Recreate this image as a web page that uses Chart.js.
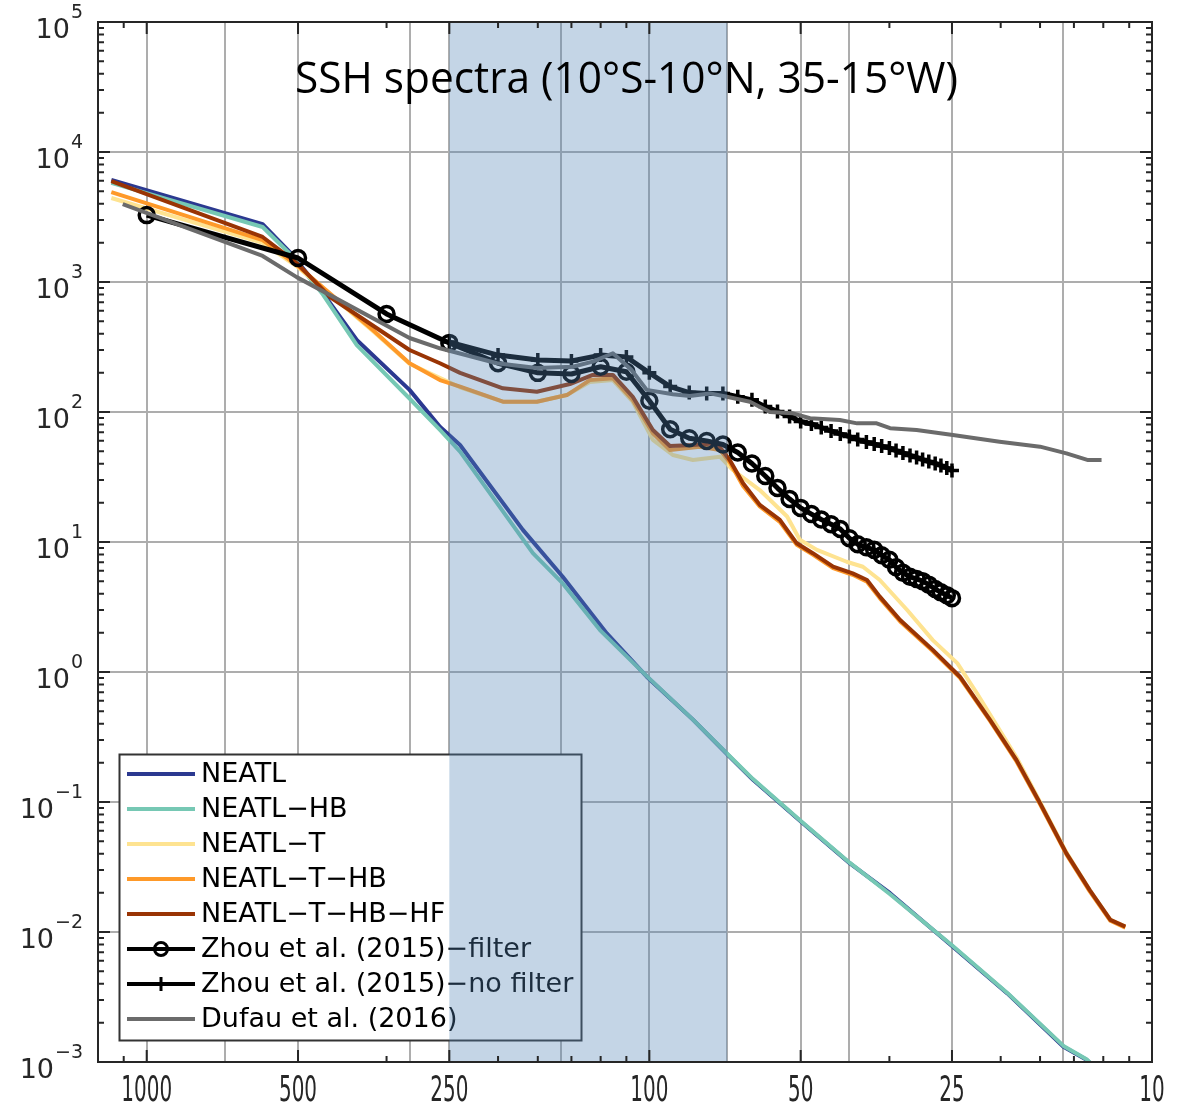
<!DOCTYPE html>
<html>
<head>
<meta charset="utf-8">
<script src="https://cdn.jsdelivr.net/npm/chart.js@4.4.1/dist/chart.umd.min.js"></script>
<style>
  body { margin: 0; background: #fff; }
  canvas { display: block; }
</style>
</head>
<body>
<canvas id="myChart" width="1197" height="1110"></canvas>
<script>
// wavelength (km) / SSH spectrum values
const neatlWl  = [1176, 588, 519, 446, 382, 300, 261, 238, 178.5, 148.7, 121.5, 101.2, 81.9, 69.2, 62.2, 49.9, 39.9, 33.2, 24.9, 19.4, 15.0, 13.5, 12.7];
const neatlVal = [6090, 2790, 1700, 822, 358, 148, 77, 55.7, 12.4, 5.4, 1.98, 0.92, 0.43, 0.223, 0.148, 0.0705, 0.0337, 0.0199, 0.0077, 0.00337, 0.00131, 0.00104, 0.00084];

const hbWl  = [1176, 588, 519, 446, 382, 300, 261, 238, 170.5, 148.7, 125.4, 101.2, 81.9, 69.2, 62.2, 49.9, 39.9, 33.2, 24.9, 19.4, 15.0, 13.5, 12.7];
const hbVal = [5780, 2650, 1650, 800, 327, 127, 72.8, 49.6, 8.2, 4.8, 2.1, 0.93, 0.43, 0.225, 0.15, 0.071, 0.034, 0.0195, 0.0078, 0.0034, 0.00133, 0.00105, 0.00084];

const tWl  = [1176, 588, 503, 355, 300, 238, 195.6, 167.4, 145.9, 131.4, 118.2, 107.9, 98.4, 89.8, 81.9, 72.4, 68.2, 60.3, 58.4, 53.2, 50.2, 46.4, 40.5, 37.6, 34.8, 30.7, 27.3, 24.4, 22.3, 20.3, 18.6, 16.7, 14.8, 13.3, 12.1, 11.3];
const tVal = [4430, 2000, 1320, 420, 235, 155, 120, 120, 135, 170, 176, 120, 61, 46.7, 42.7, 45.3, 35.8, 25.1, 22.3, 15.7, 10.4, 8.7, 7.05, 6.45, 5.1, 3.0, 1.76, 1.17, 0.686, 0.38, 0.22, 0.1, 0.041, 0.021, 0.0124, 0.011];

const thbWl  = [1176, 588, 503, 355, 300, 261, 238, 195.6, 167.4, 145.9, 131.4, 118.2, 107.9, 98.4, 91.0, 79.3, 72.4, 69.2, 65.1, 60.3, 55.0, 50.9, 47.3, 43.1, 39.4, 36.9, 34.8, 31.7, 27.3, 24.1, 21.0, 18.6, 16.7, 14.8, 13.3, 12.1, 11.3];
const thbVal = [4920, 2100, 1350, 428, 237, 176, 157, 120, 120, 135, 176, 182, 124, 68.6, 51, 54, 51, 41, 27, 18.8, 14.3, 9.5, 8.0, 6.3, 5.6, 4.95, 3.7, 2.45, 1.45, 0.9, 0.42, 0.205, 0.096, 0.0395, 0.0205, 0.0122, 0.0108];

const thbhfWl  = [1176, 588, 503, 432, 300, 261, 238, 195.6, 167.4, 143.9, 129.6, 118.2, 107.9, 98.4, 91.0, 81.9, 73.4, 69.2, 65.1, 60.3, 55.0, 50.9, 47.3, 43.1, 39.4, 36.9, 34.8, 31.7, 27.3, 24.1, 21.0, 18.6, 16.7, 14.8, 13.3, 12.1, 11.3];
const thbhfVal = [5980, 2220, 1400, 767, 300, 237, 200, 152, 143, 164, 193, 193, 131, 72.8, 54.7, 55.7, 57.4, 42.7, 28.3, 19.3, 14.8, 9.77, 8.2, 6.46, 5.74, 5.1, 3.8, 2.51, 1.48, 0.92, 0.428, 0.21, 0.098, 0.0403, 0.021, 0.0124, 0.011];

// Zhou et al. (2015): 1000/n km, n = 1..40
const zhouWl = [1000, 500, 333.3, 250, 200, 166.7, 142.9, 125, 111.1, 100, 90.9, 83.3, 76.9, 71.4, 66.7, 62.5, 58.8, 55.6, 52.6, 50,
                47.6, 45.5, 43.5, 41.7, 40, 38.5, 37, 35.7, 34.5, 33.3, 32.3, 31.3, 30.3, 29.4, 28.6, 27.8, 27, 26.3, 25.6, 25];
const zhouFiltVal = [3270, 1530, 568, 340, 237, 200, 196, 223, 204, 122, 73.6, 62.9, 59.9, 56.2, 48.8, 40.2, 32.2, 26.0, 21.4, 18.3,
                     16.4, 14.9, 13.7, 12.6, 10.7, 9.6, 9.1, 8.7, 7.9, 7.3, 6.4, 5.8, 5.4, 5.2, 5.0, 4.7, 4.35, 4.1, 3.9, 3.7];
const zhouNoFiltWl  = zhouWl.slice(3);
const zhouNoFiltVal = [345, 274, 251, 247, 274, 265, 200, 157, 141, 139, 139, 131, 124, 110, 101, 92.3, 84.5, 80.9, 76,
                       71.5, 67.8, 64.8, 61.4, 58.7, 56.7, 54.7, 52.8, 50.5, 48.4, 46.3, 44.7, 43.1, 41.6, 40.2, 38.8, 37.1, 35.5];

const dufauWl  = [1116, 588, 503, 300, 261, 201, 167.4, 142.0, 129.6, 118.2, 108.6, 101.2, 89.8, 83.1, 75.8, 70.1, 63.1, 57.6, 51.8, 47.9,
                  41.8, 38.6, 35.3, 33.2, 29.4, 24.9, 20.1, 16.7, 14.8, 13.4, 12.6];
const dufauVal = [3980, 1585, 1090, 371, 309, 237, 218, 223, 244, 283, 211, 148, 137, 133, 139, 131, 120, 100, 97.7, 89.5,
                  86.8, 81.8, 81.8, 75, 72.8, 66.6, 59.1, 54.1, 48.1, 42.7, 42.7];

// axis ticks (wavelength km) and grid
const xLabelTicks = [1000, 500, 250, 100, 50, 25, 10];
const xMinorTicks = [1111.1, 333.3, 200, 166.7, 142.9, 125, 111.1, 33.3, 20, 16.7, 14.3, 12.5, 11.1];
const xGridLines  = [1000, 700, 500, 300, 250, 150, 100, 70, 50, 40, 25, 15];
const yDecades    = [-3, -2, -1, 0, 1, 2, 3, 4, 5];
const bandRange   = [250, 70];   // shaded wavelength band

const pts = (wl, v) => wl.map((w, i) => ({ x: w, y: v[i] }));
const M = '\u2212';

const datasets = [
  { label: 'NEATL', data: pts(neatlWl, neatlVal), borderColor: '#2b3990', order: 7 },
  { label: 'NEATL' + M + 'HB', data: pts(hbWl, hbVal), borderColor: '#76c8b4', order: 6 },
  { label: 'NEATL' + M + 'T', data: pts(tWl, tVal), borderColor: '#fee391', order: 5 },
  { label: 'NEATL' + M + 'T' + M + 'HB', data: pts(thbWl, thbVal), borderColor: '#fe9929', order: 4 },
  { label: 'NEATL' + M + 'T' + M + 'HB' + M + 'HF', data: pts(thbhfWl, thbhfVal), borderColor: '#993404', order: 3 },
  { label: 'Zhou et al. (2015)' + M + 'filter', data: pts(zhouWl, zhouFiltVal), borderColor: '#000', borderWidth: 5,
    pointStyle: 'circle', pointRadius: 7.5, pointBorderWidth: 3.5, pointBorderColor: '#000', pointBackgroundColor: 'rgba(0,0,0,0)', order: 2 },
  { label: 'Zhou et al. (2015)' + M + 'no filter', data: pts(zhouNoFiltWl, zhouNoFiltVal), borderColor: '#000', borderWidth: 5,
    pointStyle: 'cross', pointRadius: 7, pointBorderWidth: 3.5, pointBorderColor: '#000', order: 1 },
  { label: 'Dufau et al. (2016)', data: pts(dufauWl, dufauVal), borderColor: '#6b6b6b', order: 0 }
];
datasets.forEach(d => {
  if (d.borderWidth === undefined) d.borderWidth = 4;
  d.tension = 0;
  d.borderJoinStyle = 'round';
  d.fill = false;
  if (d.pointRadius === undefined) d.pointRadius = 0;
});

// title, legend box, shaded band, box ticks and tick labels
const decor = {
  id: 'decor',
  afterDraw(chart) {
    const ctx = chart.ctx, a = chart.chartArea;
    const xs = chart.scales.x, ys = chart.scales.y;

    // legend
    ctx.save();
    const lx = 119.5, ly = 754.5, lw = 462, lh = 286;
    ctx.fillStyle = '#fff';
    ctx.fillRect(lx, ly, lw, lh);
    ctx.strokeStyle = '#333';
    ctx.lineWidth = 2;
    ctx.strokeRect(lx, ly, lw, lh);
    ctx.font = '27px "DejaVu Sans"';
    ctx.textBaseline = 'middle';
    chart.data.datasets.forEach((d, i) => {
      const y = 774 + 35 * i;
      ctx.strokeStyle = d.borderColor;
      ctx.lineWidth = 4;
      ctx.beginPath();
      ctx.moveTo(127, y);
      ctx.lineTo(195, y);
      ctx.stroke();
      if (d.pointStyle === 'circle') {
        ctx.lineWidth = 3;
        ctx.beginPath();
        ctx.arc(161, y, 6.5, 0, Math.PI * 2);
        ctx.stroke();
      } else if (d.pointStyle === 'cross') {
        ctx.lineWidth = 3;
        ctx.beginPath();
        ctx.moveTo(161, y - 7);
        ctx.lineTo(161, y + 7);
        ctx.stroke();
      }
      ctx.fillStyle = '#000';
      ctx.fillText(d.label, 201, y + 1);
    });
    ctx.restore();

    // shaded band (semi-transparent, on top)
    ctx.save();
    const b0 = xs.getPixelForValue(bandRange[0]), b1 = xs.getPixelForValue(bandRange[1]);
    ctx.fillStyle = 'rgba(82,132,182,0.34)';
    ctx.fillRect(b0, a.top, b1 - b0, a.bottom - a.top);
    ctx.restore();

    // title
    ctx.save();
    ctx.fillStyle = '#000';
    ctx.font = '44px "Open Sans"';
    ctx.textBaseline = 'alphabetic';
    const title = 'SSH spectra (10°S-10°N, 35-15°W)';
    const tw = ctx.measureText(title).width;
    ctx.translate(295, 93);
    ctx.scale(663 / tw, 1);
    ctx.fillText(title, 0, 0);
    ctx.restore();

    // axes box and inward ticks
    ctx.save();
    ctx.strokeStyle = '#262626';
    ctx.lineWidth = 2;
    ctx.strokeRect(a.left, a.top, a.right - a.left, a.bottom - a.top);
    ctx.beginPath();
    const xt = (v, len) => {
      const p = xs.getPixelForValue(v);
      ctx.moveTo(p, a.bottom); ctx.lineTo(p, a.bottom - len);
      ctx.moveTo(p, a.top); ctx.lineTo(p, a.top + len);
    };
    xLabelTicks.forEach(v => xt(v, 12));
    xMinorTicks.forEach(v => xt(v, 6));
    const yt = (v, len) => {
      const p = ys.getPixelForValue(v);
      ctx.moveTo(a.left, p); ctx.lineTo(a.left + len, p);
      ctx.moveTo(a.right, p); ctx.lineTo(a.right - len, p);
    };
    yDecades.forEach(e => {
      yt(Math.pow(10, e), 12);
      if (e < 5) for (let k = 2; k <= 9; k++) yt(k * Math.pow(10, e), 6);
    });
    ctx.stroke();
    ctx.restore();

    // x tick labels (condensed)
    ctx.save();
    ctx.fillStyle = '#262626';
    ctx.font = '35px "DejaVu Sans"';
    ctx.textBaseline = 'alphabetic';
    xLabelTicks.forEach(v => {
      const p = xs.getPixelForValue(v);
      const s = String(v);
      const w = ctx.measureText(s).width * 0.57;
      ctx.save();
      ctx.translate(p - w / 2, 1101);
      ctx.scale(0.57, 1);
      ctx.fillText(s, 0, 0);
      ctx.restore();
    });
    ctx.restore();

    // y tick labels 10^n
    ctx.save();
    ctx.fillStyle = '#262626';
    ctx.textBaseline = 'alphabetic';
    yDecades.forEach(e => {
      const p = ys.getPixelForValue(Math.pow(10, e));
      const ex = e < 0 ? M + Math.abs(e) : String(e);
      ctx.font = '19px "DejaVu Sans"';
      const ew = ctx.measureText(ex).width;
      ctx.textAlign = 'left';
      ctx.fillText(ex, 83 - ew, p - 4);
      ctx.font = '27px "DejaVu Sans"';
      const bw = ctx.measureText('10').width;
      ctx.fillText('10', 83 - ew - bw - 1, p + 16);
    });
    ctx.restore();
  }
};

const ctx_spec = document.getElementById('myChart').getContext('2d');
const specChart = new Chart(ctx_spec, {
  type: 'line',
  data: { datasets: datasets },
  options: {
    responsive: false,
    maintainAspectRatio: false,
    devicePixelRatio: 1,
    animation: false,
    events: [],
    layout: { padding: { left: 98, right: 45, top: 22, bottom: 48 } },
    plugins: { legend: { display: false }, tooltip: { enabled: false }, title: { display: false } },
    scales: {
      x: {
        type: 'logarithmic', reverse: true, min: 10, max: 1250,
        afterBuildTicks: s => { s.ticks = xGridLines.map(v => ({ value: v })); },
        afterFit: s => { s.height = 0; },
        ticks: { display: false },
        grid: { color: '#adadad', lineWidth: 2, drawTicks: false },
        border: { display: false }
      },
      y: {
        type: 'logarithmic', min: 1e-3, max: 1e5,
        afterBuildTicks: s => { s.ticks = yDecades.map(e => ({ value: Math.pow(10, e) })); },
        afterFit: s => { s.width = 0; },
        ticks: { display: false },
        grid: { color: '#adadad', lineWidth: 2, drawTicks: false },
        border: { display: false }
      }
    }
  },
  plugins: [decor]
});
</script>
</body>
</html>
